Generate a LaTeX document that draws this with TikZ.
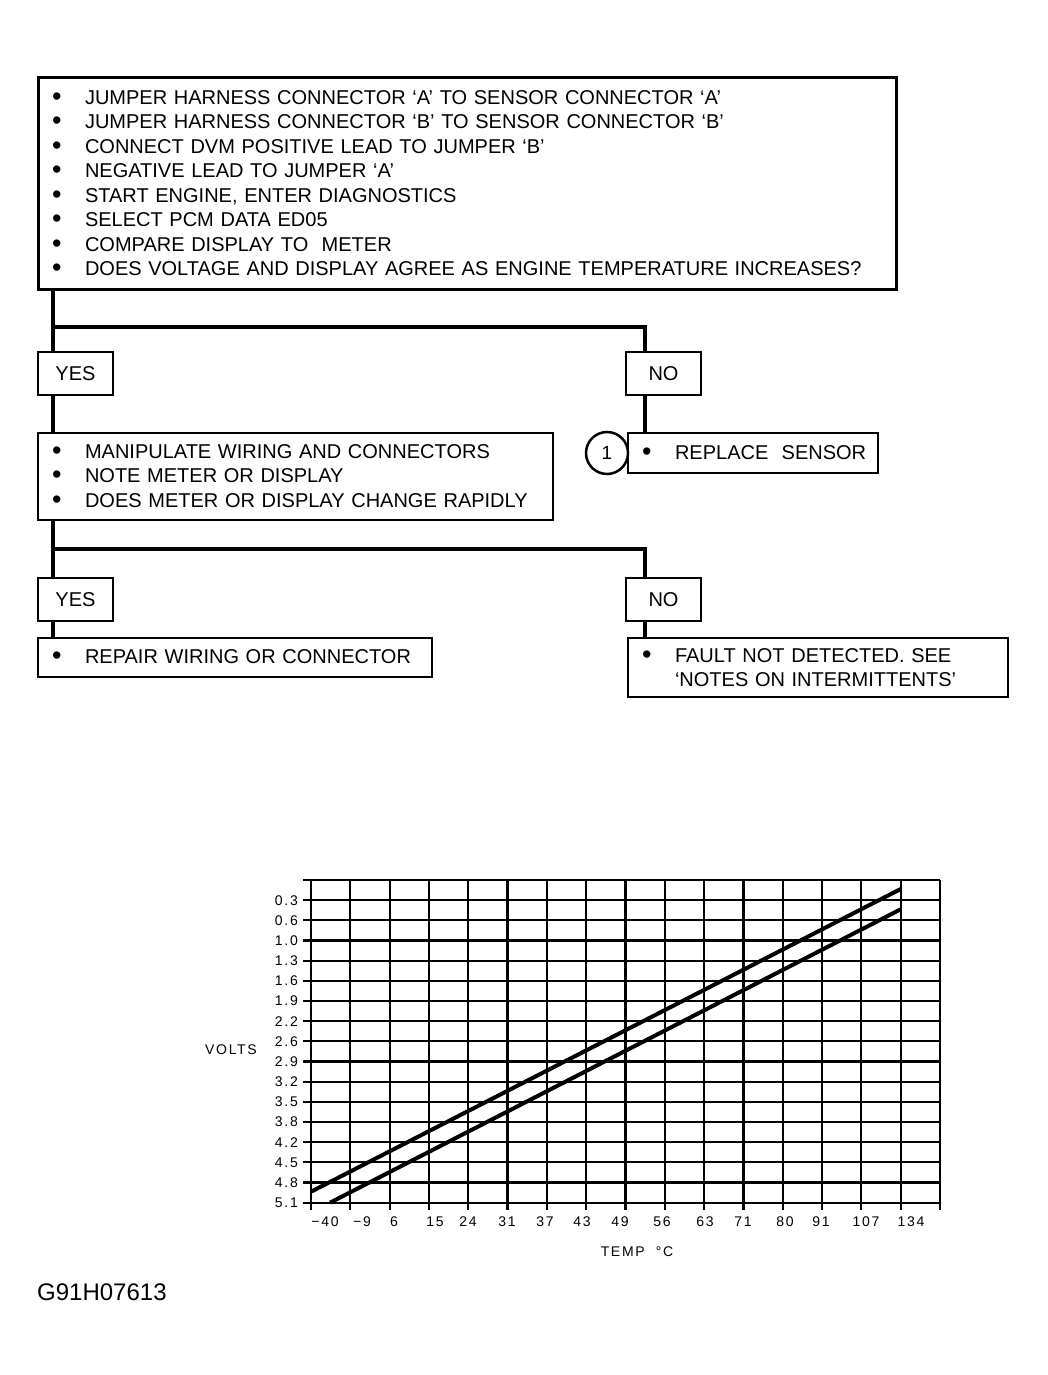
\documentclass[tikz,border=0pt]{standalone}
\usepackage{fontspec}
\setmainfont{Liberation Sans}
\newfontfamily\chartfont[LetterSpace=12]{Liberation Sans}
\newcommand\blt{\makebox[33pt][l]{\raisebox{-1pt}{\scalebox{1.35}{\textbullet}}}}
\begin{document}
\begin{tikzpicture}[x=1pt,y=-1pt,
  box/.style={draw, line width=2.5pt, anchor=north west, outer sep=0pt, inner xsep=14pt, inner ysep=0pt, align=left, font=\fontsize{20}{24.5}\selectfont},
  ans/.style={draw, line width=2.5pt, anchor=north west, outer sep=0pt, minimum width=75pt, minimum height=43pt, inner sep=0pt, font=\fontsize{20}{24}\selectfont},
  conn/.style={line width=4.5pt},
  gridline/.style={line width=2.2pt},
  curve/.style={line width=4pt},
  vlab/.style={font=\chartfont\fontsize{14}{14}\selectfont, anchor=east, inner sep=0pt},
  tlab/.style={font=\chartfont\fontsize{14}{14}\selectfont, inner sep=0pt}]
\useasboundingbox[fill=white] (0,0) rectangle (1047,1375);

% ---------- flowchart ----------
\node[box, line width=3pt, text width=830pt, minimum height=211pt] (top) at (38,78)
 {\blt JUMPER HARNESS CONNECTOR ‘A’ TO SENSOR CONNECTOR ‘A’\\
  \blt JUMPER HARNESS CONNECTOR ‘B’ TO SENSOR CONNECTOR ‘B’\\
  \blt CONNECT DVM POSITIVE LEAD TO JUMPER ‘B’\\
  \blt NEGATIVE LEAD TO JUMPER ‘A’\\
  \blt START ENGINE, ENTER DIAGNOSTICS\\
  \blt SELECT PCM DATA ED05\\
  \blt COMPARE DISPLAY TO\ \ METER\\
  \blt DOES VOLTAGE AND DISPLAY AGREE AS ENGINE TEMPERATURE INCREASES?};

\node[ans] (yes1) at (38,352) {YES};
\node[ans] (no1) at (626,352) {NO};

\node[box, text width=487pt, minimum height=87pt] (box2) at (38,433)
 {\blt MANIPULATE WIRING AND CONNECTORS\\
  \blt NOTE METER OR DISPLAY\\
  \blt DOES METER OR DISPLAY CHANGE RAPIDLY};

\node[box, text width=222pt, minimum height=40pt] (replace) at (628,433)
 {\mbox{\blt REPLACE\ \ SENSOR}};
\node[draw, circle, line width=2.5pt, minimum size=42pt, inner sep=0pt, outer sep=0pt,
  font=\fontsize{19}{19}\selectfont, anchor=east] (c1) at (replace.west) {1};

\node[ans] (yes2) at (38,578) {YES};
\node[ans] (no2) at (626,578) {NO};

\node[box, text width=366pt, minimum height=39pt] (repair) at (38,638)
 {\blt REPAIR WIRING OR CONNECTOR};
\node[box, text width=352pt, minimum height=59pt] (fault) at (628,638)
 {\blt FAULT NOT DETECTED. SEE\\
  \hspace*{33pt}‘NOTES ON INTERMITTENTS’};

\coordinate (j1) at (53,327);
\coordinate (k1) at (645,327);
\coordinate (j2) at (53,549);
\coordinate (k2) at (645,549);

\draw[conn] ([xshift=15pt]top.south west) -- ([xshift=15pt]yes1.north west);
\draw[conn, line join=miter] (j1) -- (k1) -- ([xshift=19pt]no1.north west);
\draw[conn] ([xshift=15pt]yes1.south west) -- ([xshift=15pt]box2.north west);
\draw[conn] ([xshift=19pt]no1.south west) -- ([xshift=17pt]replace.north west);
\draw[conn] ([xshift=15pt]box2.south west) -- ([xshift=15pt]yes2.north west);
\draw[conn, line join=miter] (j2) -- (k2) -- ([xshift=19pt]no2.north west);
\draw[conn] ([xshift=15pt]yes2.south west) -- ([xshift=15pt]repair.north west);
\draw[conn] ([xshift=19pt]no2.south west) -- ([xshift=17pt]fault.north west);

% ---------- chart ----------
\foreach \i in {0,...,16}
  \draw[gridline] (303,{880+20.17*\i}) -- (940,{880+20.17*\i});
\foreach \i in {0,...,16}
  \draw[gridline] ({311+39.31*\i},880) -- ({311+39.31*\i},1210);

\draw[curve] (311,1191.7) -- (900.7,889);
\draw[curve] (330,1202.7) -- (900.7,909.3);

\foreach \v [count=\i] in {0.3,0.6,1.0,1.3,1.6,1.9,2.2,2.6,2.9,3.2,3.5,3.8,4.2,4.5,4.8,5.1}
  \node[vlab] (yl\i) at (298,{880+20.17*\i}) {\v};

\foreach \t/\x [count=\i] in {−40/325,−9/362,6/394,15/435,24/468,31/507,37/545,43/582,49/620,56/662,63/705,71/743,80/785,91/821,107/866,134/911}
  \node[tlab] (xl\i) at (\x,1222) {\t};

\node[tlab] (volts) at (231,1050) {VOLTS};
\node[tlab] (temp) at (637,1252) {TEMP\ \ °C};
\node[anchor=west, inner sep=0pt, font=\fontsize{24}{24}\selectfont] (code) at (37,1292) {G91H07613};
\end{tikzpicture}
\end{document}
